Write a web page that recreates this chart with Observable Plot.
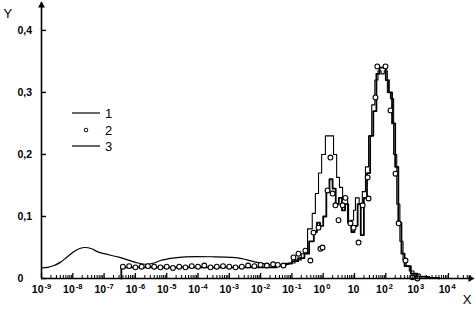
<!DOCTYPE html>
<html><head><meta charset="utf-8">
<script src="https://cdn.jsdelivr.net/npm/d3@7"></script>
<script src="https://cdn.jsdelivr.net/npm/@observablehq/plot@0.6"></script>
<style>
body{margin:0;background:#fff;}
#wrap{position:relative;width:475px;height:314px;}
#legend{position:absolute;left:0;top:0;pointer-events:none;}
</style></head>
<body><div id="wrap"></div>
<script>
// ---- data (x values given as log10) ----
// Series 3: smooth part (left)
const s3SmoothLog = [-9.0,-8.8,-8.6,-8.4,-8.2,-8.0,-7.8,-7.6,-7.4,-7.2,-7.0,-6.5,-6.0,-5.7,-5.4,-5.2,-4.8,-4.4,-3.5,-2.9,-2.6,-2.2,-1.8,-1.4,-1.1];
const s3SmoothVal = [0.017,0.018,0.021,0.026,0.034,0.042,0.048,0.050,0.048,0.043,0.040,0.034,0.026,0.023,0.025,0.029,0.033,0.035,0.035,0.034,0.032,0.027,0.023,0.021,0.023];
// Series 3: step histogram (bin left edges, values)
const s3EdgeLog = [-1.1,-0.9,-0.7,-0.5,-0.35,-0.25,-0.15,-0.05,0.07,0.33,0.43,0.52,0.62,0.78,0.87,0.97,1.03,1.15,1.25,1.35,1.45,1.55,1.65,1.75,1.85,1.95,2.05,2.15,2.25,2.35,2.45,2.55,2.65,2.75,2.9,3.1,3.4];
const s3Val = [0.025,0.030,0.040,0.080,0.105,0.137,0.170,0.200,0.230,0.200,0.163,0.147,0.130,0.090,0.094,0.110,0.130,0.120,0.140,0.180,0.230,0.280,0.320,0.335,0.330,0.335,0.300,0.290,0.200,0.120,0.060,0.030,0.020,0.012,0.007,0.003,0.001];
const s3EndLog = 3.7;
// Series 1: step histogram
const s1EdgeLog = [-6.45,-1.5,-1.2,-1.0,-0.8,-0.6,-0.45,-0.3,-0.2,-0.1,0.0,0.1,0.2,0.3,0.4,0.5,0.6,0.7,0.8,0.9,1.0,1.1,1.2,1.3,1.4,1.5,1.6,1.7,1.8,1.9,2.0,2.1,2.2,2.3,2.4,2.5,2.6,2.8,3.0,3.3];
const s1Val = [0.018,0.021,0.024,0.028,0.033,0.040,0.060,0.075,0.090,0.085,0.100,0.140,0.160,0.145,0.120,0.130,0.110,0.120,0.090,0.075,0.085,0.120,0.070,0.130,0.170,0.230,0.270,0.330,0.340,0.340,0.320,0.300,0.250,0.180,0.090,0.040,0.020,0.008,0.003,0.001];
const s1EndLog = 3.7;
// Series 2: circles
const s2Log = [-6.4,-6.2,-6.0,-5.8,-5.6,-5.4,-5.2,-5.0,-4.8,-4.6,-4.4,-4.2,-4.0,-3.8,-3.6,-3.4,-3.2,-3.0,-2.8,-2.6,-2.4,-2.2,-2.0,-1.8,-1.6,-1.45,
  -1.27,-0.95,-0.79,-0.57,-0.41,-0.31,-0.15,-0.09,-0.02,0.14,0.23,0.30,0.39,0.49,0.62,0.71,0.87,0.97,1.13,1.26,1.42,1.45,1.67,1.73,1.99,2.15,2.31,2.41,2.63,2.85,3.01];
const s2Val = [0.019,0.020,0.018,0.019,0.020,0.019,0.018,0.019,0.017,0.019,0.018,0.020,0.019,0.021,0.018,0.019,0.020,0.019,0.018,0.019,0.021,0.020,0.022,0.021,0.023,0.022,
  0.021,0.034,0.040,0.045,0.029,0.074,0.082,0.048,0.050,0.142,0.195,0.137,0.118,0.094,0.118,0.130,0.089,0.082,0.058,0.118,0.163,0.129,0.292,0.342,0.342,0.271,0.169,0.089,0.029,0.002,0.000];
// axes
const xDecades = [-9,-8,-7,-6,-5,-4,-3,-2,-1,0,1,2,3,4];
const yTicks = [0,0.1,0.2,0.3,0.4];
const legendLabels = ["1","2","3"];

// ---- build ----
const xMin = 1e-9, xMax = Math.pow(10,4.77);
function steps(edges, vals, end){
  const pts=[{x:Math.pow(10,edges[0]),y:0}];
  edges.forEach((e,i)=>pts.push({x:Math.pow(10,e),y:vals[i]}));
  pts.push({x:Math.pow(10,end),y:0});
  return pts;
}
const s1 = steps(s1EdgeLog,s1Val,s1EndLog);
const s3s = steps(s3EdgeLog,s3Val,s3EndLog).slice(1);
const s3c = s3SmoothLog.map((l,i)=>({x:Math.pow(10,l),y:s3SmoothVal[i]}));
const s2 = s2Log.map((l,i)=>({x:Math.pow(10,l),y:s2Val[i]}));
const major = xDecades.map(k=>Math.pow(10,k));
const minor = [];
for(let k=-9;k<=4;k++) for(let m=2;m<=9;m++){const v=m*Math.pow(10,k); if(v<=xMax) minor.push(v);}
const expLabels = xDecades.filter(k=>k!==1).map(k=>({x:Math.pow(10,k),e:String(k)}));
const tenLabel = [{x:10}];
const font = "'Liberation Sans', Arial, sans-serif";

const chart = Plot.plot({
  width:475, height:314,
  marginLeft:41, marginRight:3, marginTop:2, marginBottom:36,
  style:{fontFamily:font, fontSize:"10px", background:"#fff", color:"#000"},
  x:{type:"log", domain:[xMin,xMax]},
  y:{domain:[0,0.445]},
  marks:[
    Plot.line(s3c,{x:"x",y:"y",curve:"catmull-rom",stroke:"#000",strokeWidth:1.2}),
    Plot.line(s3s,{x:"x",y:"y",curve:"step-after",stroke:"#000",strokeWidth:1.1}),
    Plot.line(s1,{x:"x",y:"y",curve:"step-after",stroke:"#000",strokeWidth:1.8}),
    Plot.dot(s2,{x:"x",y:"y",r:2.4,stroke:"#000",fill:"#fff",strokeWidth:1.1}),
    Plot.ruleY([0],{stroke:"#000",strokeWidth:1.6}),
    Plot.ruleX([xMin],{stroke:"#000",strokeWidth:1.6}),
    Plot.axisX({ticks:minor,tickSize:-3,tickFormat:()=>"",strokeWidth:1,label:null}),
    Plot.axisX({ticks:major,tickSize:-5,tickFormat:()=>"",strokeWidth:1.3,label:null}),
    Plot.axisY({ticks:yTicks,tickSize:-5,tickFormat:()=>"",strokeWidth:1.4,label:null}),
    Plot.axisY({ticks:yTicks,tickSize:0,tickPadding:24,textAnchor:"start",fontWeight:"bold",fontSize:10.5,label:null,
      tickFormat:d=>d===0?"0":d.toFixed(1).replace(".",",")}),
    Plot.text(expLabels,{x:"x",text:()=>"10",frameAnchor:"bottom",dy:14,dx:2,textAnchor:"end",fontWeight:"bold",fontSize:10.5}),
    Plot.text(expLabels,{x:"x",text:"e",frameAnchor:"bottom",dy:10,dx:3,textAnchor:"start",fontWeight:"bold",fontSize:7.5}),
    Plot.text(tenLabel,{x:"x",text:()=>"10",frameAnchor:"bottom",dy:14,dx:-1,textAnchor:"middle",fontWeight:"bold",fontSize:10.5}),
    Plot.dot([{x:xMax,y:0}],{x:"x",y:"y",symbol:"triangle",rotate:90,r:2.6,fill:"#000",stroke:"none",dx:-2}),
    Plot.dot([{x:xMin,y:0.445}],{x:"x",y:"y",symbol:"triangle",r:2.6,fill:"#000",stroke:"none",dy:3}),
    Plot.text(["Y"],{frameAnchor:"top-left",dx:-38,dy:6,fontSize:13,textAnchor:"start"}),
    Plot.text(["X"],{frameAnchor:"bottom-right",dx:-1,dy:25,fontSize:13,textAnchor:"end"})
  ]
});
const wrap = document.getElementById("wrap");
wrap.appendChild(chart);
// legend overlay
const ns="http://www.w3.org/2000/svg";
const lg=document.createElementNS(ns,"svg");
lg.setAttribute("id","legend");lg.setAttribute("width","475");lg.setAttribute("height","314");
const rows=[113,130,146];
legendLabels.forEach((lab,i)=>{
  if(i===1){const c=document.createElementNS(ns,"circle");c.setAttribute("cx",86);c.setAttribute("cy",rows[i]);c.setAttribute("r",1.8);c.setAttribute("fill","#fff");c.setAttribute("stroke","#000");lg.appendChild(c);}
  else{const l=document.createElementNS(ns,"line");l.setAttribute("x1",72);l.setAttribute("x2",100);l.setAttribute("y1",rows[i]);l.setAttribute("y2",rows[i]);l.setAttribute("stroke","#000");l.setAttribute("stroke-width",1.2);lg.appendChild(l);}
  const t=document.createElementNS(ns,"text");t.setAttribute("x",105);t.setAttribute("y",rows[i]+4.5);t.setAttribute("font-family",font);t.setAttribute("font-size",13);t.textContent=lab;lg.appendChild(t);
});
wrap.appendChild(lg);
</script></body></html>
